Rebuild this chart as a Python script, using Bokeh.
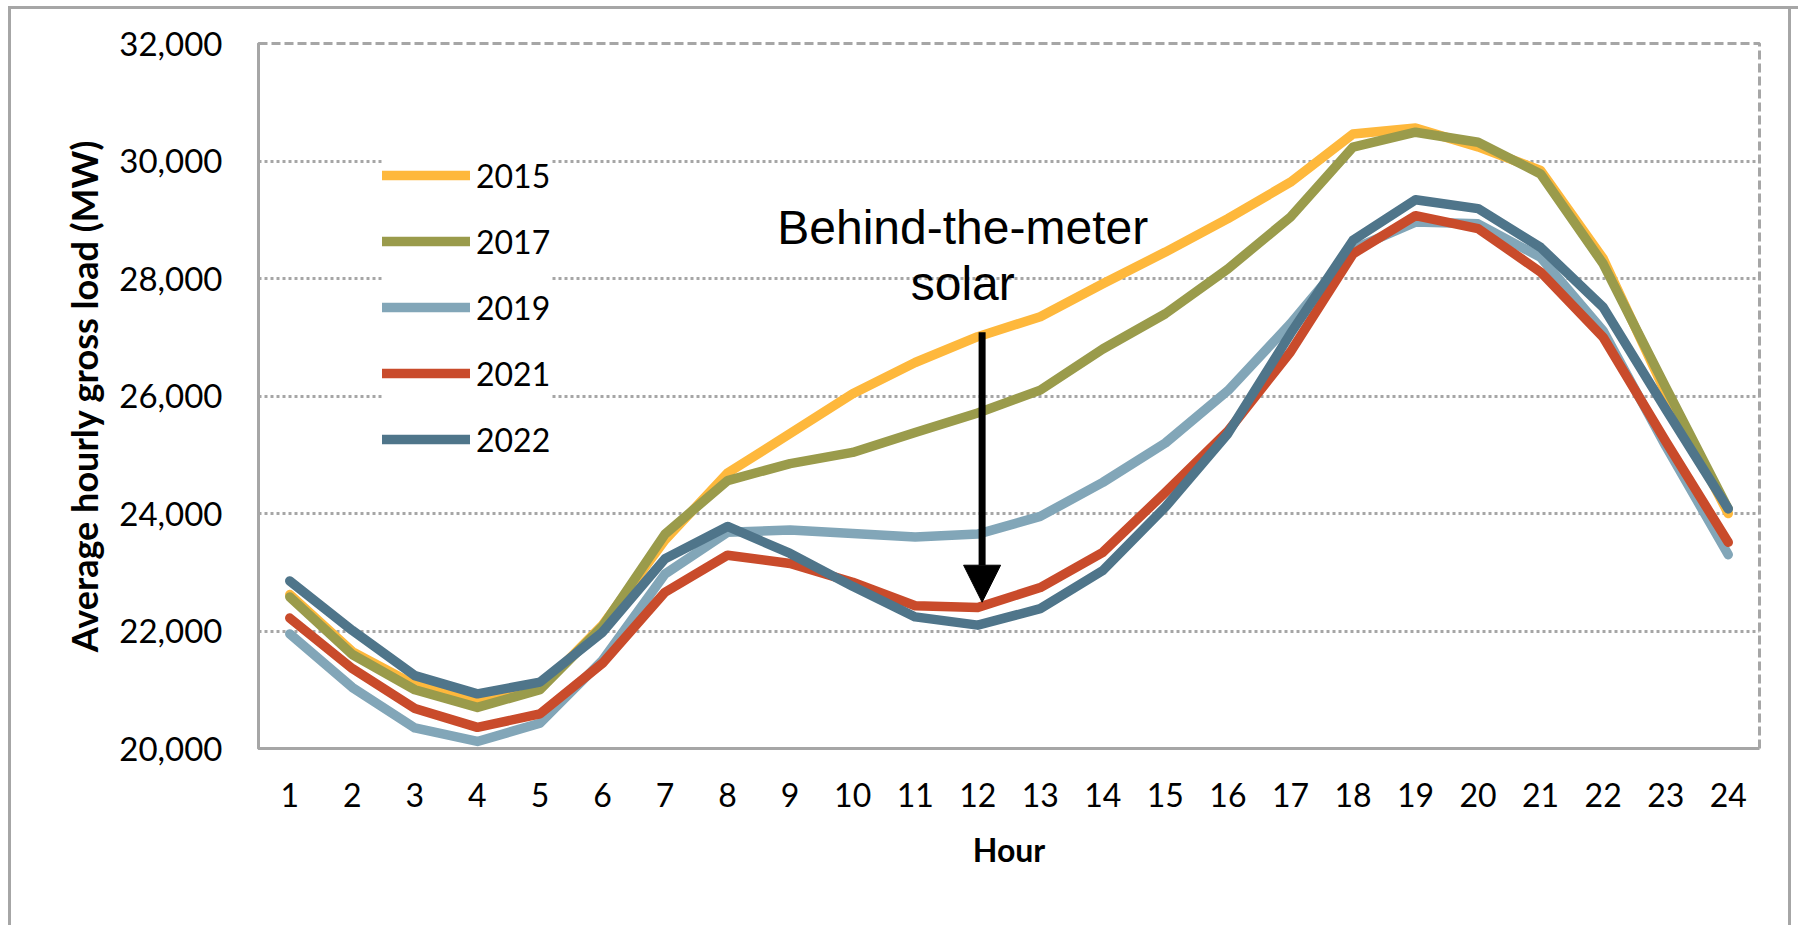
from bokeh.plotting import figure
from bokeh.models import (Range1d, FixedTicker, NumeralTickFormatter, Legend, LegendItem,
                          Arrow, NormalHead)
from bokeh.core.properties import value
from bokeh.embed import file_html
from bokeh.resources import INLINE

# ---------------- data ----------------
hours = list(range(1, 25))
y_ticks = [20000, 22000, 24000, 26000, 28000, 30000, 32000]
years = ["2015", "2017", "2019", "2021", "2022"]

load_2015 = [22620, 21650, 21080, 20830, 21020, 22100, 23550, 24690, 25360, 26040, 26570, 27010,
             27350, 27910, 28450, 29020, 29640, 30460, 30560, 30240, 29840, 28340, 26050, 24000]
load_2017 = [22580, 21600, 21000, 20700, 21000, 22080, 23650, 24560, 24850, 25040, 25380, 25710,
             26100, 26800, 27400, 28165, 29045, 30235, 30490, 30320, 29780, 28250, 26150, 24080]
load_2019 = [21950, 21040, 20350, 20120, 20430, 21500, 22970, 23680, 23720, 23660, 23600, 23650,
             23950, 24530, 25200, 26090, 27230, 28500, 28960, 28930, 28360, 27110, 25150, 23300]
load_2021 = [22220, 21360, 20680, 20360, 20590, 21450, 22660, 23290, 23150, 22830, 22430, 22400,
             22740, 23340, 24360, 25400, 26750, 28420, 29070, 28850, 28110, 27000, 25230, 23510]
load_2022 = [22850, 22010, 21240, 20930, 21130, 21980, 23230, 23780, 23320, 22760, 22240, 22100,
             22380, 23030, 24110, 25360, 27060, 28650, 29340, 29190, 28530, 27510, 25780, 24080]

series = [load_2015, load_2017, load_2019, load_2021, load_2022]
colors = ["#FEB83C", "#9A9B4B", "#82A6B8", "#C94B2B", "#4F758A"]

annotation_lines = ["Behind-the-meter", "solar"]
annotation_x = 11.76
annotation_y = [28870, 27915]
arrow_x = 12.07
arrow_y_start = 27086
arrow_y_end = 22490

GREY = "#A6A6A6"
FONT = "Lato"

# outer chart-area frame (left, top and right edges), drawn as inset shadows of the figure element
frame_css = ("inset 8px 6px 0 0 white, inset 11px 9px 0 0 #A6A6A6, "
             "inset -7px 0 0 0 white, inset -10px 0 0 0 #A6A6A6")

# ---------------- figure ----------------
p = figure(frame_width=1501, frame_height=705,
           min_border_left=258, min_border_right=39, min_border_top=43, min_border_bottom=177,
           x_range=Range1d(0.5, 24.5), y_range=Range1d(20000, 32000),
           output_backend="svg", toolbar_location=None,
           styles={"box-shadow": frame_css})
p.background_fill_color = "white"
p.border_fill_color = None
p.outline_line_color = GREY
p.outline_line_width = 3
p.outline_line_dash = "9 4"

# axes
p.xaxis.ticker = FixedTicker(ticks=hours)
p.yaxis.ticker = FixedTicker(ticks=y_ticks)
p.yaxis.formatter = NumeralTickFormatter(format="0,0")
for ax in (p.xaxis[0], p.yaxis[0]):
    ax.axis_line_color = GREY
    ax.axis_line_width = 3
    ax.major_tick_line_color = None
    ax.minor_tick_line_color = None
    ax.major_label_text_font = FONT
    ax.major_label_text_color = "black"
    ax.axis_label_text_font = FONT
    ax.axis_label_text_font_style = "bold"
    ax.axis_label_text_color = "black"
p.xaxis.major_label_text_font_size = "32px"
p.yaxis.major_label_text_font_size = "33px"
p.xaxis.major_label_standoff = 28
p.yaxis.major_label_standoff = 30
p.xaxis.axis_label = "Hour"
p.xaxis.axis_label_text_font_size = "32px"
p.xaxis.axis_label_standoff = 20
p.yaxis.axis_label = "Average hourly gross load (MW)"
p.yaxis.axis_label_text_font_size = "36px"
p.yaxis.axis_label_standoff = 10

# grid
p.xgrid.grid_line_color = None
p.ygrid.ticker = FixedTicker(ticks=y_ticks[1:-1])
p.ygrid.grid_line_color = GREY
p.ygrid.grid_line_width = 3
p.ygrid.grid_line_dash = "3 3"

# lines
renderers = []
for yr, vals, c in zip(years, series, colors):
    r = p.line(hours, vals, line_color=c, line_width=9.5, line_cap="round", line_join="round")
    renderers.append(r)

legend = Legend(items=[LegendItem(label=yr, renderers=[r]) for yr, r in zip(years, renderers)],
                location=(124, 289), orientation="vertical",
                background_fill_color="white", background_fill_alpha=1.0,
                border_line_color=None, padding=20, margin=0, spacing=26,
                glyph_width=88, glyph_height=40, label_height=40, label_standoff=6,
                label_text_font=FONT, label_text_font_size="32px", label_text_color="black")
p.add_layout(legend)

# annotation text + arrow
p.text(x=[annotation_x] * len(annotation_lines), y=annotation_y, text=annotation_lines,
       text_font=value("Liberation Sans"), text_font_size="48px", text_color="black",
       text_align="center", text_baseline="alphabetic")
p.add_layout(Arrow(x_start=arrow_x, y_start=arrow_y_start, x_end=arrow_x, y_end=arrow_y_end,
                   line_color="black", line_width=7,
                   end=NormalHead(size=37, fill_color="black", line_color="black", line_width=1)))

open("out.html", "w").write(file_html(p, INLINE))
